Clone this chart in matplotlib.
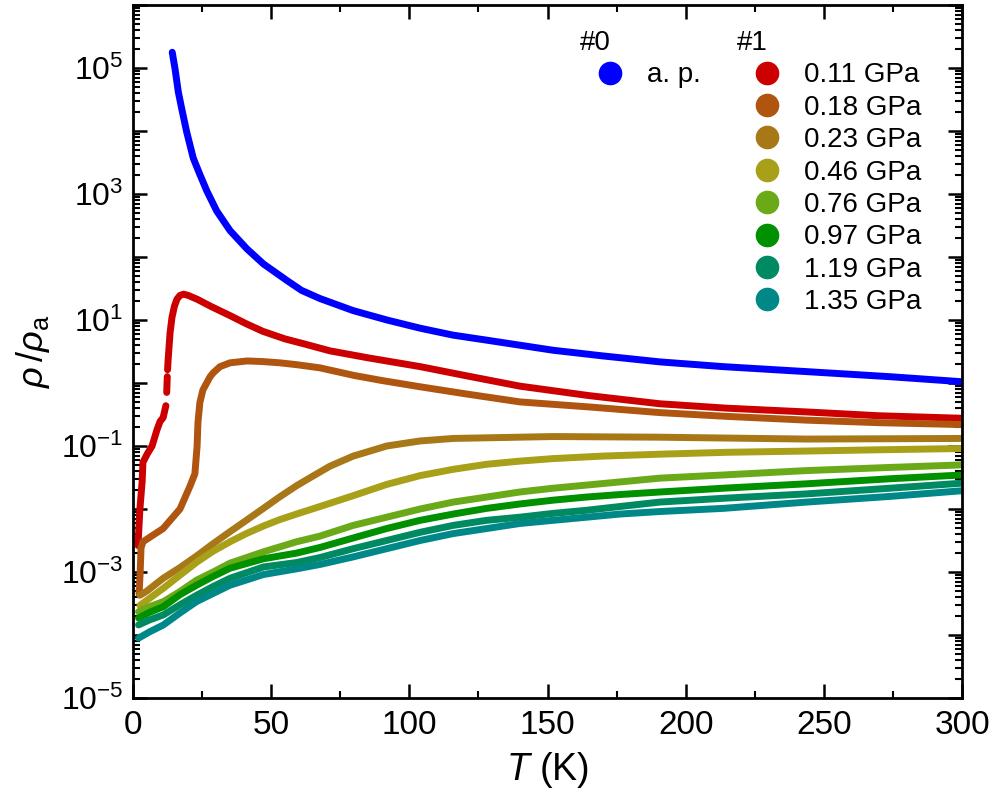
"""Normalised resistivity vs temperature under pressure (log scale)."""

import matplotlib

matplotlib.use("Agg")
import matplotlib.pyplot as plt
import numpy as np
from matplotlib.lines import Line2D
from matplotlib.ticker import FuncFormatter, LogLocator, MultipleLocator, NullFormatter

# --- data: T in K, log10(rho/rho_a) read on the log axis ---
ap_T = [14.2, 15.2, 16.4, 17.6, 19.4, 21.8, 24.2, 26.7, 30.3, 35.1, 41.2, 47.2, 55.6,
        61.0, 67.7, 79.6, 91.9, 103.9, 115.8, 128, 140, 152, 170, 190.7, 213.5, 244, 274, 300]
ap_log = [5.25, 4.99, 4.62, 4.36, 3.99, 3.57, 3.31, 3.05, 2.73, 2.42, 2.13, 1.89, 1.63,
          1.47, 1.34, 1.15, 1.0, 0.87, 0.76, 0.68, 0.60, 0.52, 0.43, 0.335, 0.26, 0.18,
          0.10, 0.02]

# 0.11 GPa has two small gaps in the data near 12 K
p011_T = [1.8, 2.5, 3.3, 3.6, 5.1, 6.9, 8.7, 9.8, 10.9, 11.9, np.nan, 12.2, 12.4, np.nan,
          12.5, 12.7, 13.4, 14.1, 15.0, 15.9, 17.0, 18.3, 20.0, 23.2, 28.0, 35.1, 41.0,
          47.0, 55.0, 62.0, 71.3, 85.0, 103.9, 120, 140, 165, 190.7, 215, 244, 270, 300]
p011_log = [-2.58, -2.0, -1.57, -1.26, -1.13, -1.0, -0.74, -0.61, -0.55, -0.36, np.nan,
            -0.15, 0.10, np.nan, 0.21, 0.36, 0.79, 1.04, 1.22, 1.33, 1.39, 1.41, 1.39,
            1.33, 1.22, 1.07, 0.94, 0.82, 0.70, 0.62, 0.51, 0.40, 0.26, 0.12, -0.05,
            -0.20, -0.33, -0.40, -0.46, -0.52, -0.56]

p018_T = [2.2, 2.6, 2.9, 3.6, 10.9, 17.0, 20.6, 22.4, 23.2, 23.5, 24.2, 25.3, 27.9, 29.0,
          31.5, 35.1, 41.3, 47.0, 53.2, 59.4, 67.7, 80, 90, 103.9, 120, 140, 165, 190.7,
          215, 244, 270, 300]
p018_log = [-3.35, -3.0, -2.62, -2.52, -2.31, -2.0, -1.64, -1.44, -1.0, -0.63, -0.31,
            -0.11, 0.10, 0.16, 0.26, 0.32, 0.35, 0.34, 0.32, 0.29, 0.24, 0.12, 0.04,
            -0.06, -0.17, -0.30, -0.38, -0.47, -0.53, -0.59, -0.63, -0.66]

p023_T = [2.5, 5.1, 10.9, 17, 23.2, 29, 35.1, 41, 47.2, 53, 59.2, 65, 71.3, 79.7, 85.8,
          91.8, 103.9, 115.9, 128, 152, 190, 244, 300]
p023_log = [-3.37, -3.30, -3.10, -2.93, -2.74, -2.55, -2.36, -2.18, -1.99, -1.81, -1.63,
            -1.48, -1.32, -1.16, -1.08, -1.0, -0.92, -0.88, -0.87, -0.85, -0.86, -0.89, -0.88]

p046_T = [2.5, 5, 10.9, 17, 23.2, 29, 35.1, 41, 47.2, 53, 59.2, 67.7, 79.6, 91.8, 103.9,
          115.9, 128, 140, 152, 170, 190.7, 215, 244, 270, 300]
p046_log = [-3.53, -3.45, -3.26, -3.05, -2.84, -2.67, -2.52, -2.39, -2.27, -2.17, -2.08,
            -1.96, -1.79, -1.61, -1.47, -1.37, -1.29, -1.24, -1.20, -1.16, -1.13, -1.10,
            -1.08, -1.06, -1.04]

hi_T = [2.0, 6, 11, 17, 23, 29, 35.1, 47.2, 59.2, 67.7, 79.7, 91.8, 103.9, 115.9, 128,
        140, 152, 164.2, 176.3, 190.7, 213.6, 243.8, 274, 300]
p076_log = [-3.63, -3.55, -3.47, -3.31, -3.13, -3.00, -2.86, -2.68, -2.52, -2.43, -2.26,
            -2.13, -2.00, -1.89, -1.81, -1.73, -1.67, -1.62, -1.57, -1.51, -1.46, -1.39,
            -1.34, -1.30]
p097_log = [-3.73, -3.64, -3.55, -3.36, -3.21, -3.07, -2.94, -2.79, -2.70, -2.61, -2.46,
            -2.31, -2.18, -2.08, -1.99, -1.92, -1.86, -1.81, -1.77, -1.73, -1.67, -1.60,
            -1.52, -1.46]
p119_log = [-3.84, -3.76, -3.68, -3.52, -3.37, -3.23, -3.10, -2.92, -2.85, -2.77, -2.63,
            -2.50, -2.37, -2.26, -2.18, -2.13, -2.07, -2.02, -1.96, -1.89, -1.83, -1.76,
            -1.67, -1.59]
p135_log = [-4.05, -3.95, -3.84, -3.65, -3.47, -3.34, -3.21, -3.04, -2.95, -2.88, -2.76,
            -2.63, -2.50, -2.39, -2.31, -2.23, -2.18, -2.13, -2.08, -2.04, -1.99, -1.89,
            -1.80, -1.71]

pressure_labels = ["0.11 GPa", "0.18 GPa", "0.23 GPa", "0.46 GPa", "0.76 GPa",
                   "0.97 GPa", "1.19 GPa", "1.35 GPa"]
pressure_colors = ["#cc0000", "#b05510", "#a87818", "#a8a018", "#6aaa18",
                   "#009000", "#008a62", "#008888"]
ap_color = "#0000ff"

plt.rcParams["font.family"] = ["Liberation Sans", "DejaVu Sans"]
plt.rcParams["mathtext.fontset"] = "custom"
plt.rcParams["mathtext.rm"] = "Liberation Sans"
plt.rcParams["mathtext.it"] = "Liberation Sans:italic"
plt.rcParams["mathtext.bf"] = "Liberation Sans:bold"

fig = plt.figure(figsize=(9.97, 7.94), dpi=100, facecolor="white")
ax = fig.add_axes([133 / 997, 1 - 698 / 794, (962 - 133) / 997, (698 - 5) / 794])

series = [
    (p011_T, p011_log), (p018_T, p018_log), (p023_T, p023_log), (p046_T, p046_log),
    (hi_T, p076_log), (hi_T, p097_log), (hi_T, p119_log), (hi_T, p135_log),
]
lw = 5
ap_line, = ax.plot(ap_T, 10 ** np.asarray(ap_log), color=ap_color, lw=lw,
                   solid_capstyle="round", solid_joinstyle="round")
p_lines = []
for (t, lg), c in zip(series, pressure_colors):
    line, = ax.plot(t, 10 ** np.asarray(lg), color=c, lw=lw,
                    solid_capstyle="round", solid_joinstyle="round")
    p_lines.append(line)

ax.set_yscale("log")
ax.set_xlim(0, 300)
ax.set_ylim(1e-5, 1e6)

ax.yaxis.set_major_locator(LogLocator(base=10, numticks=30))
ax.yaxis.set_minor_locator(LogLocator(base=10, subs=np.arange(2, 10), numticks=100))
ax.yaxis.set_minor_formatter(NullFormatter())


def _ylab(v, _pos):
    e = int(round(np.log10(v)))
    return f"$\\mathregular{{10^{{{e}}}}}$" if e % 2 else ""


ax.yaxis.set_major_formatter(FuncFormatter(_ylab))
ax.xaxis.set_major_locator(MultipleLocator(50))
ax.xaxis.set_minor_locator(MultipleLocator(25))

ax.tick_params(which="both", direction="in", top=True, right=True)
ax.tick_params(which="major", length=10, width=1.8)
ax.tick_params(which="minor", length=5, width=1.5)
ax.tick_params(axis="y", which="major", labelsize=23, pad=7)
ax.tick_params(axis="x", which="major", labelsize=24, pad=9)
for sp in ax.spines.values():
    sp.set_linewidth(2)

ax.set_xlabel(r"$T$ (K)", fontsize=27, labelpad=6)
ax.set_ylabel(r"$\rho\,/\rho_{\mathrm{a}}$", fontsize=26, labelpad=6)

leg_kw = dict(loc="upper left", bbox_transform=fig.transFigure, frameon=False,
              fontsize=20, title_fontsize=20, alignment="left", handlelength=2.16,
              handletextpad=0.25, borderpad=0, borderaxespad=0, labelspacing=0.23)


def _dot(line):
    return Line2D([], [], ls="", marker="o", ms=16, color=line.get_color())


leg0 = ax.legend([_dot(ap_line)], ["a. p."], title="#0",
                 bbox_to_anchor=(580 / 997, 1 - 30 / 794), **leg_kw)
ax.add_artist(leg0)
ax.legend([_dot(l) for l in p_lines], pressure_labels, title="#1",
          bbox_to_anchor=(737 / 997, 1 - 30 / 794), **leg_kw)

fig.savefig("out.png", dpi=100, facecolor="white")
